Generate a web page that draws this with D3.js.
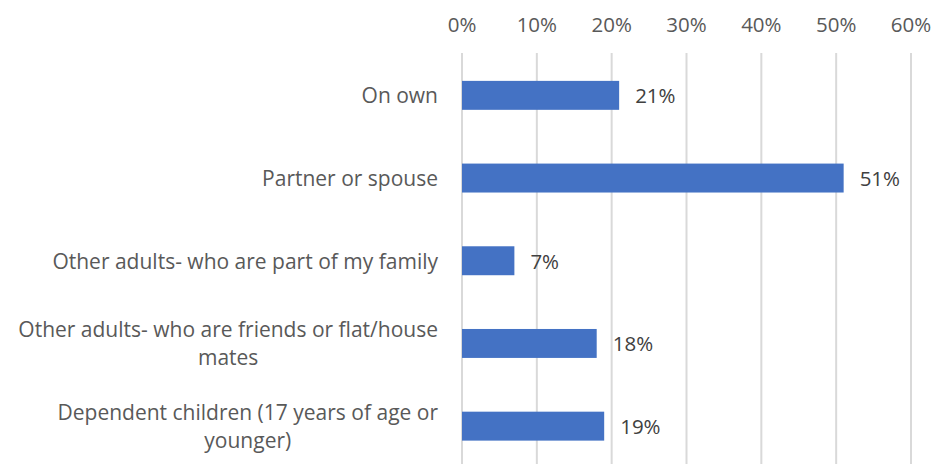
<!DOCTYPE html>
<meta charset="utf-8">
<script src="https://d3js.org/d3.v7.min.js"></script>
<body style="margin:0;background:#fff;">
<div id="chart"></div>
<script>

// data
var categories = ["On own", "Partner or spouse", "Other adults- who are part of my family",
  "Other adults- who are friends or flat/house mates", "Dependent children (17 years of age or younger)"];
var labelLines = [["On own"], ["Partner or spouse"], ["Other adults- who are part of my family"],
  ["Other adults- who are friends or flat/house", "mates"], ["Dependent children (17 years of age or", "younger)"]];
var values = [21, 51, 7, 18, 19];
var tickValues = [0, 10, 20, 30, 40, 50, 60];

var W = 933, H = 464;
var font = "'Open Sans', Lato, sans-serif";
var grey = "#595959";

var svg = d3.select("#chart").append("svg")
  .attr("width", W).attr("height", H)
  .style("font-family", font);

var x = d3.scaleLinear().domain([0, 60]).range([462, 911]);
var y = d3.scaleBand().domain(categories).range([54, 467.5])
  .paddingInner(0.65).paddingOuter(0.325);

// gridlines
svg.append("g").selectAll("line")
  .data(tickValues).enter().append("line")
  .attr("x1", d => x(d)).attr("x2", d => x(d))
  .attr("y1", 53).attr("y2", H)
  .attr("stroke", "#d9d9d9").attr("stroke-width", 2);

// top tick labels
svg.append("g").selectAll("text")
  .data(tickValues).enter().append("text")
  .attr("x", d => x(d)).attr("y", 24)
  .attr("text-anchor", "middle").attr("dominant-baseline", "central")
  .attr("fill", grey).style("font-size", "20.5px")
  .text(d => d + "%");

// bars
svg.append("g").selectAll("rect")
  .data(values).enter().append("rect")
  .attr("x", x(0))
  .attr("y", (d, i) => y(categories[i]))
  .attr("width", d => x(d) - x(0))
  .attr("height", y.bandwidth())
  .attr("fill", "#4472c4");

// value labels
svg.append("g").selectAll("text")
  .data(values).enter().append("text")
  .attr("x", d => x(d) + 16)
  .attr("y", (d, i) => y(categories[i]) + y.bandwidth() / 2)
  .attr("dominant-baseline", "central")
  .attr("fill", "#404040").style("font-size", "20.5px")
  .text(d => d + "%");

// category labels, block right-aligned, lines centred
var lh = 28;
labelLines.forEach(function(lines, i) {
  var g = svg.append("g");
  var cy = y(categories[i]) + y.bandwidth() / 2;
  var ts = g.selectAll("text").data(lines).enter().append("text")
    .attr("y", (d, j) => cy + (j - (lines.length - 1) / 2) * lh)
    .attr("dominant-baseline", "central")
    .attr("text-anchor", "middle")
    .attr("fill", grey).style("font-size", "21px")
    .text(d => d);
  var maxW = d3.max(ts.nodes(), n => n.getComputedTextLength());
  ts.attr("x", 438 - maxW / 2);
});

</script>
